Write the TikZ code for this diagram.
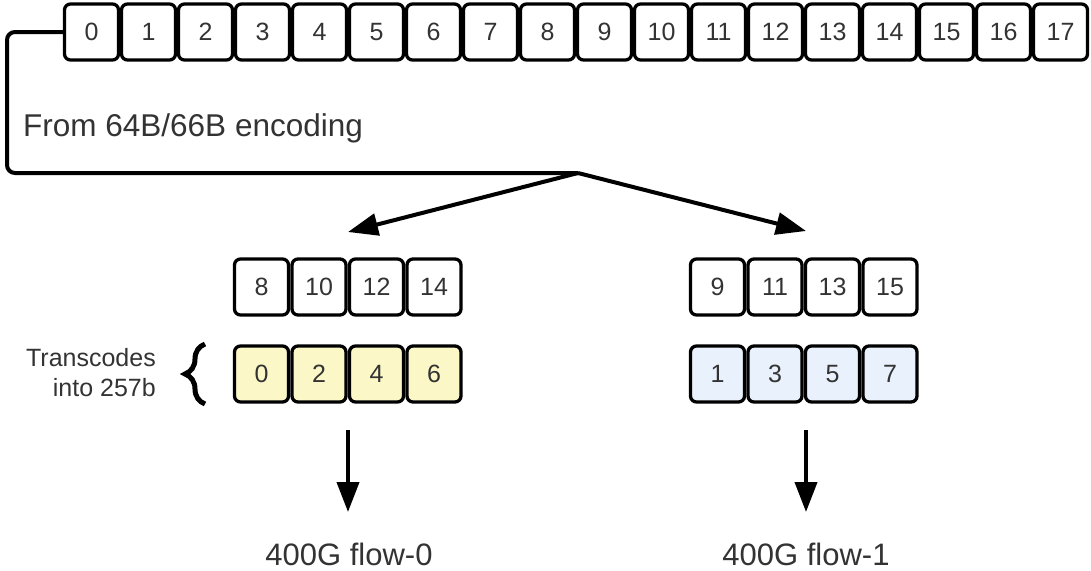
\documentclass[tikz,border=0pt]{standalone}
\usepackage{fontspec}
\setmainfont{Liberation Sans}
\usetikzlibrary{arrows.meta,decorations.pathreplacing}
\definecolor{txt}{HTML}{333333}
\definecolor{yel}{HTML}{FBF7C6}
\definecolor{blu}{HTML}{E9F1FC}
\begin{document}
\begin{tikzpicture}[x=1pt,y=-1pt,
  cell/.style={draw=black,line width=3.3pt,rounded corners=6pt,minimum width=54pt,minimum height=56pt,inner sep=0pt,fill=white,text=txt,font=\fontsize{25}{30}\selectfont},
  ycell/.style={cell,fill=yel},
  bcell/.style={cell,fill=blu},
  conn/.style={line width=4pt,rounded corners=8pt},
  arr/.style={line width=4pt,-{Triangle[length=30pt,width=22pt]}},
  lbl/.style={text=txt,font=\fontsize{31}{34}\selectfont,inner sep=0pt}]
\useasboundingbox (0,0) rectangle (1091,570);
% top row
\foreach \i in {0,...,17}{
  \node[cell] (t\i) at ({91.5+57*\i},32) {\i};
}
% middle groups
\foreach \v [count=\k from 0] in {8,10,12,14}{
  \node[cell] (a\k) at ({261.5+57.5*\k},287) {\v};
}
\foreach \v [count=\k from 0] in {0,2,4,6}{
  \node[ycell] (y\k) at ({261.5+57.5*\k},374) {\v};
}
\foreach \v [count=\k from 0] in {9,11,13,15}{
  \node[cell] (b\k) at ({717.5+57.5*\k},287) {\v};
}
\foreach \v [count=\k from 0] in {1,3,5,7}{
  \node[bcell] (z\k) at ({717.5+57.5*\k},374) {\v};
}
% connector
\coordinate (split) at (578,173);
\coordinate (tipL) at (348,232);
\coordinate (tipR) at (806,231);
\draw[conn] (t0.west) -- (7,32) -- (7,173) -- (split);
\draw[arr] (split) -- (tipL);
\draw[arr] (split) -- (tipR);
% labels
\node[lbl,anchor=west,font=\fontsize{31.5}{34}\selectfont] (enc) at (23,128) {From 64B/66B encoding};
\node[text=txt,font=\fontsize{25}{30}\selectfont,align=right,anchor=east,inner sep=0pt] (trans) at (156,373) {Transcodes\\into 257b};
\draw[line width=5pt,decorate,decoration={brace,amplitude=20pt,aspect=0.5}] (205,404) -- (205,344);
% down arrows
\coordinate (dL0) at (348,430);
\coordinate (dL1) at (348,512);
\coordinate (dR0) at (806,430);
\coordinate (dR1) at (806,512);
\draw[arr] (dL0) -- (dL1);
\draw[arr] (dR0) -- (dR1);
\node[lbl] (f0) at (349,554) {400G flow-0};
\node[lbl] (f1) at (806,554) {400G flow-1};
\end{tikzpicture}
\end{document}
